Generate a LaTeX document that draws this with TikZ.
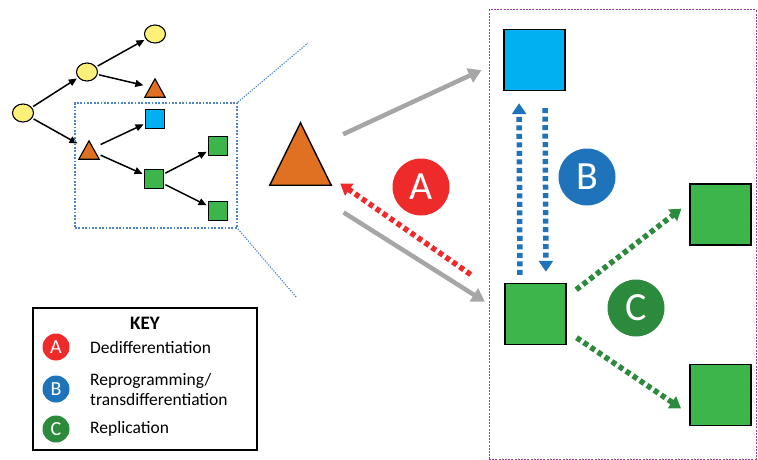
\documentclass[tikz,border=0pt]{standalone}
\usepackage{fontspec}
\setmainfont{Carlito}
\usetikzlibrary{arrows.meta,calc,shapes.geometric}
\definecolor{cyellow}{HTML}{FFF07A}
\definecolor{corange}{HTML}{E07022}
\definecolor{cblue}{HTML}{00B0F0}
\definecolor{cgreen}{HTML}{3DB54A}
\definecolor{cred}{HTML}{EE2A2A}
\definecolor{cdblue}{HTML}{1F73BA}
\definecolor{cdgreen}{HTML}{2C8A3C}
\definecolor{cgray}{HTML}{A6A6A6}
\definecolor{czoom}{HTML}{4A86C8}
\definecolor{cpurple}{HTML}{9B3DAF}
\begin{document}
\begin{tikzpicture}[x=1pt,y=-1pt,
  ycell/.style={draw=black, line width=1.1, ellipse, fill=cyellow, minimum width=21, minimum height=18, inner sep=0},
  sq/.style={draw=black, line width=1.1, rectangle, minimum size=19, inner sep=0},
  bigsq/.style={draw=black, line width=1.4, rectangle, minimum size=61, inner sep=0},
  tribox/.style={inner sep=0, rectangle},
  trifill/.style={draw=black, line width=1.1, fill=corange, line join=miter},
  treearrow/.style={-{Triangle[length=8,width=7]}, line width=1.5, shorten >=1.5, shorten <=1.5},
  grayarrow/.style={cgray, line width=4.5, -{Triangle[length=13,width=15]}},
  dotarrow/.style={line width=5.5, dash pattern=on 5 off 3.5, -{Triangle[length=11,width=14]}},
  biglbl/.style={circle, minimum size=57, inner sep=0, text=white, font=\fontsize{40}{40}\selectfont},
  keylbl/.style={circle, minimum size=27, inner sep=0, text=white, font=\fontsize{20}{20}\selectfont},
  keytext/.style={anchor=west, inner sep=0, align=left, font=\fontsize{17.5}{20}\selectfont},
  zoomline/.style={czoom, line width=1.1, dash pattern=on 1.3 off 1.3}
]
\useasboundingbox (0,0) rectangle (758,460);

% ---------- tree ----------
\node[ycell] (r) at (23,113) {};
\node[ycell] (m) at (87,72) {};
\node[ycell] (t) at (155,34) {};
\node[tribox, minimum width=20, minimum height=18] (ta) at (155,88) {};
\draw[trifill] (ta.north) -- (ta.south west) -- (ta.south east) -- cycle;
\node[tribox, minimum width=20, minimum height=18] (tb) at (89,150) {};
\draw[trifill] (tb.north) -- (tb.south west) -- (tb.south east) -- cycle;
\node[sq, fill=cblue] (bs) at (155,119) {};
\node[sq, fill=cgreen] (gs) at (154,179) {};
\node[sq, fill=cgreen] (gs1) at (218,146) {};
\node[sq, fill=cgreen] (gs2) at (218,211) {};

\draw[treearrow] (r) -- (m);
\draw[treearrow] (r) -- (tb);
\draw[treearrow] (m) -- (t);
\draw[treearrow] (m) -- (ta);
\draw[treearrow] (tb) -- (bs);
\draw[treearrow] (tb) -- (gs);
\draw[treearrow] (gs) -- (gs1);
\draw[treearrow] (gs) -- (gs2);

% zoom box
\node[draw=czoom, line width=1.8, dash pattern=on 1.8 off 1.6, minimum width=162, minimum height=125, inner sep=0] (zb) at (156,165.5) {};
\coordinate (z1) at (308,43);
\coordinate (z2) at (297,298);
\draw[zoomline] (zb.north east) -- (z1);
\draw[zoomline] (zb.south east) -- (z2);

% ---------- big triangle ----------
\node[tribox, minimum width=61, minimum height=62] (T) at (300.5,154) {};
\draw[trifill, line width=1.4] (T.north) -- (T.south west) -- (T.south east) -- cycle;

% ---------- right panel ----------
\node[draw=cpurple, line width=1, dash pattern=on 2 off 1.2, minimum width=267, minimum height=449, inner sep=0] (panel) at (622.5,234.5) {};
\node[bigsq, fill=cblue] (BS) at (534.5,60) {};
\node[bigsq, fill=cgreen] (GL) at (535.5,314) {};
\node[bigsq, fill=cgreen] (GR1) at (720.5,214.5) {};
\node[bigsq, fill=cgreen] (GR2) at (720.5,395) {};

\draw[grayarrow, shorten <=47, shorten >=24] (T.center) -- (BS.west);
\draw[grayarrow, shorten <=51, shorten >=23] (T.south) -- (GL.west);
\draw[dotarrow, cred, shorten <=41, shorten >=11] ($(GL.west)+(0,-16)$) -- ($(T.south east)+(0,-8)$);

\draw[dotarrow, cdblue, shorten <=8, shorten >=12] ($(GL.north)+(-15.5,0)$) -- ($(BS.south)+(-15.5,0)$);
\draw[dotarrow, cdblue, shorten <=17, shorten >=11] ($(BS.south)+(10.5,0)$) -- ($(GL.north)+(10.5,0)$);

\draw[dotarrow, cdgreen, shorten <=12, shorten >=10] ($(GL.east)+(0,-17)$) -- ($(GR1.west)+(0,-12)$);
\draw[dotarrow, cdgreen, shorten <=12, shorten >=10] ($(GL.east)+(0,17)$) -- ($(GR2.west)+(0,19)$);

\node[biglbl, fill=cred] (LA) at (421,187) {A};
\node[biglbl, fill=cdblue] (LB) at (587,177) {B};
\node[biglbl, fill=cdgreen] (LC) at (636,308) {C};

% ---------- key ----------
\node[draw=black, line width=1.6, minimum width=224, minimum height=142, inner sep=0] (key) at (145,379) {};
\node[font=\bfseries\fontsize{19}{19}\selectfont, inner sep=0] (keyt) at (145,323) {KEY};
\node[keylbl, fill=cred] (kA) at (56,347) {A};
\node[keylbl, fill=cdblue] (kB) at (56,389) {B};
\node[keylbl, fill=cdgreen] (kC) at (56,429) {C};
\node[keytext] (tA) at (90,347) {Dedifferentiation};
\node[keytext] (tB) at (90,389) {Reprogramming/\\transdifferentiation};
\node[keytext] (tC) at (90,429) {Replication};
\end{tikzpicture}
\end{document}
